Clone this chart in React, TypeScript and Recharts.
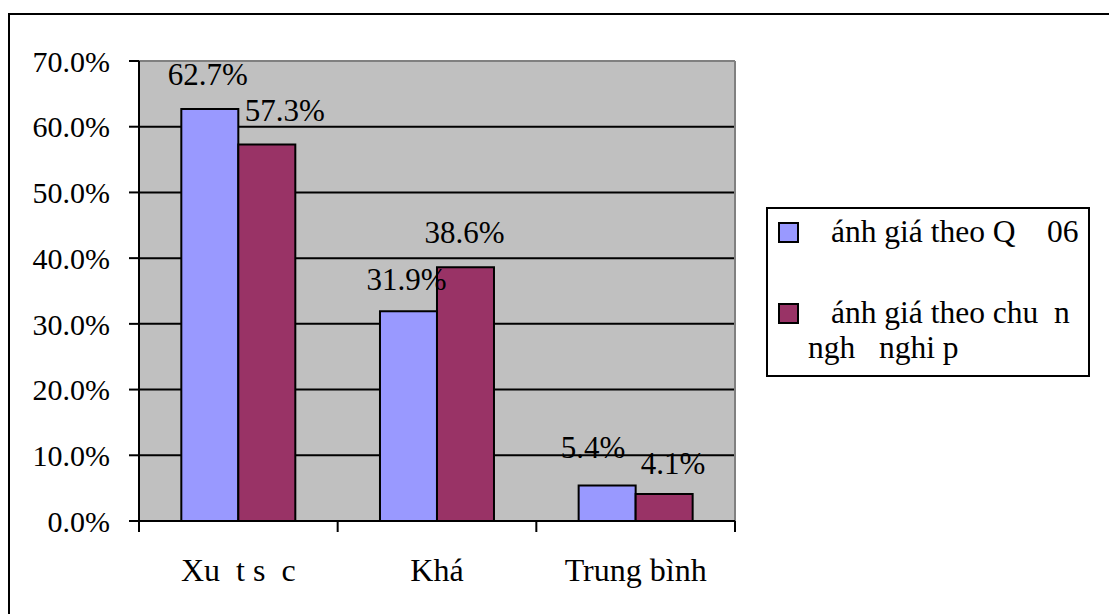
import React from 'react';
import { BarChart, Bar, XAxis, YAxis, CartesianGrid, LabelList, Legend } from 'recharts';

const categories = ['Xu\u00A0\u00A0t s\u00A0\u00A0c', 'Khá', 'Trung bình'];
const theoQD06 = [62.7, 31.9, 5.4];
const theoChuanNghe = [57.3, 38.6, 4.1];
const yTicks = [0, 10, 20, 30, 40, 50, 60, 70];

const seriesNames = ['ánh giá theo Q    06', 'ánh giá theo chu  n ngh   nghi p'];
const legendLines = [['ánh giá theo Q    06'], ['ánh giá theo chu  n', 'ngh   nghi p']];

// small nudges so neighbouring value labels don't collide: [dx, dy]
const qd06LabelNudge = [[-2, -1], [-2, 2], [-14, -5]];
const chuanLabelNudge = [[18, 0], [-1, -1], [9, 3]];

const data = categories.map((name, i) => ({
  name,
  qd06: theoQD06[i],
  chuan: theoChuanNghe[i],
}));

const FONT = "'Liberation Serif', 'Times New Roman', serif";
const pct = (v: any) => Number(v).toFixed(1) + '%';

const valueLabel = (nudge: number[][]) => (props: any) => {
  const { x, y, width, value, index } = props;
  const [dx, dy] = nudge[index] || [0, 0];
  return (
    <text
      x={Number(x) + Number(width) / 2 + dx}
      y={Number(y) - 23 + dy}
      textAnchor="middle"
      fill="#000"
      fontSize={31}
      fontFamily={FONT}
    >
      {pct(value)}
    </text>
  );
};

// category label plus the tick marks on the band edges
const CategoryTick = (props: any) => {
  const { x, y, payload, width, visibleTicksCount, index } = props;
  const half = Number(width) / visibleTicksCount / 2;
  const axisY = y - 37;
  return (
    <g>
      <line x1={x - half} x2={x - half} y1={axisY} y2={axisY + 11} stroke="#000" strokeWidth={2} />
      {index === visibleTicksCount - 1 && (
        <line x1={x + half} x2={x + half} y1={axisY} y2={axisY + 11} stroke="#000" strokeWidth={2} />
      )}
      <text x={x} y={y} dy="0.71em" textAnchor="middle" fill="#000" fontSize={32} fontFamily={FONT}>
        {payload.value}
      </text>
    </g>
  );
};

const renderLegend = (props: any) => {
  const payload = props.payload || [];
  return (
    <div
      style={{
        position: 'relative',
        width: 324,
        height: 170,
        border: '2px solid #000',
        boxSizing: 'border-box',
        background: '#fff',
        fontFamily: FONT,
        fontSize: 31.5,
        lineHeight: '30px',
        color: '#000',
        whiteSpace: 'pre',
      }}
    >
      {payload.map((entry: any, i: number) => {
        const top = i === 0 ? 13 : 94;
        return (
          <React.Fragment key={i}>
            <div
              style={{
                position: 'absolute',
                left: 10,
                top,
                width: 21,
                height: 21,
                boxSizing: 'border-box',
                border: '2px solid #000',
                background: entry.color,
              }}
            />
            {legendLines[i].map((line, j) => (
              <div
                key={j}
                style={{ position: 'absolute', left: j === 0 ? 63 : 40, top: top - 5 + j * 35 }}
              >
                {line}
              </div>
            ))}
          </React.Fragment>
        );
      })}
    </div>
  );
};

export default function App() {
  return (
    <div style={{ position: 'absolute', left: 0, top: 0, width: 1109, height: 614, overflow: 'hidden', background: '#fff', fontFamily: FONT }}>
      {/* outer chart frame, right/bottom edges fall outside */}
      <div style={{ position: 'absolute', left: 8, top: 13, width: 1300, height: 800, border: '2px solid #000' }} />
      <div style={{ position: 'absolute', left: 0, top: 0 }}>
        <BarChart
          width={1109}
          height={614}
          data={data}
          margin={{ top: 61, right: 374, bottom: 0, left: 0 }}
          barCategoryGap="21.3%"
          barGap={0}
        >
          <CartesianGrid vertical={false} fill="#C0C0C0" fillOpacity={1} stroke="#000" strokeWidth={2} />
          <CartesianGrid
            fill="none"
            stroke="#808080"
            strokeWidth={2}
            horizontalCoordinatesGenerator={({ offset }: any) => [offset.top]}
            verticalCoordinatesGenerator={({ offset }: any) => [offset.left + offset.width]}
          />
          <XAxis
            dataKey="name"
            height={93}
            axisLine={{ stroke: '#000', strokeWidth: 2 }}
            tickLine={false}
            tickSize={0}
            tickMargin={37}
            tick={<CategoryTick />}
          />
          <YAxis
            width={139}
            domain={[0, 70]}
            ticks={yTicks}
            tickFormatter={pct}
            tickSize={10}
            tickMargin={19}
            axisLine={{ stroke: '#000', strokeWidth: 2 }}
            tickLine={{ stroke: '#000', strokeWidth: 2 }}
            tick={{ fill: '#000', fontSize: 30, fontFamily: FONT }}
          />
          <Legend
            align="center"
            verticalAlign="middle"
            content={renderLegend}
            wrapperStyle={{ position: 'absolute', left: 766, top: 207, width: 324, height: 170 }}
          />
          <Bar dataKey="qd06" name={seriesNames[0]} fill="#9999FF" stroke="#000" strokeWidth={2} isAnimationActive={false}>
            <LabelList dataKey="qd06" content={valueLabel(qd06LabelNudge)} />
          </Bar>
          <Bar dataKey="chuan" name={seriesNames[1]} fill="#993366" stroke="#000" strokeWidth={2} isAnimationActive={false}>
            <LabelList dataKey="chuan" content={valueLabel(chuanLabelNudge)} />
          </Bar>
        </BarChart>
      </div>
    </div>
  );
}
